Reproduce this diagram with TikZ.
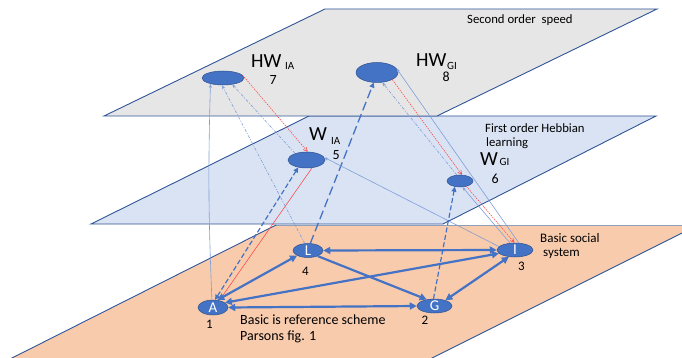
\documentclass[tikz,border=0pt]{standalone}
\usepackage{fontspec}
\setmainfont{Carlito}
\usetikzlibrary{arrows.meta,shapes.geometric}

\definecolor{planegray}{HTML}{E7E6E6}
\definecolor{planeblue}{HTML}{DAE3F3}
\definecolor{planeorange}{HTML}{F8CBAD}
\definecolor{edgeblue}{HTML}{2F5597}
\definecolor{edgegray}{HTML}{8EA0BA}
\definecolor{nodeblue}{HTML}{4472C4}
\definecolor{nodeedge}{HTML}{2F528F}
\definecolor{thinblue}{HTML}{7F9ED8}
\definecolor{linkred}{HTML}{FF3B3B}

\tikzset{
  plane/.style={draw=edgeblue, line width=0.9pt, line join=miter},
  unit/.style={ellipse, fill=nodeblue, draw=nodeedge, line width=0.5pt,
    inner sep=0pt, text=white, font=\fontsize{15}{15}\selectfont},
  lbl/.style={anchor=base west, inner sep=0pt, text=black},
  thick link/.style={draw=nodeblue, line width=2.2pt,
    arrows={Triangle[length=7pt,width=7pt]-Triangle[length=7pt,width=7pt]}},
  thick oneway/.style={draw=nodeblue, line width=2.2pt,
    arrows={-Triangle[length=7pt,width=7pt]}},
  dash link/.style={draw=nodeblue, line width=1.2pt, dash pattern=on 5pt off 2.5pt,
    -{Triangle[length=5pt,width=5pt]}},
  long dash link/.style={draw=nodeblue, line width=1.3pt, dash pattern=on 9pt off 4pt,
    -{Triangle[length=5pt,width=5pt]}},
  thin link/.style={draw=thinblue, line width=0.6pt,
    -{Stealth[length=4pt,width=3pt]}},
  thin dash link/.style={draw=thinblue, line width=0.6pt, dash pattern=on 3pt off 1.5pt on 1pt off 1.5pt,
    -{Stealth[length=4pt,width=3pt]}},
  red link/.style={draw=linkred, line width=0.5pt, dash pattern=on 1.5pt off 1pt,
    -{Straight Barb[length=4pt,width=4pt]}},
  red solid link/.style={draw=linkred, line width=0.5pt,
    -{Straight Barb[length=4pt,width=4pt]}},
}

\begin{document}
\begin{tikzpicture}[x=1pt,y=-1pt]
\useasboundingbox (0,0) rectangle (682,358);

% the three layers: social system, first order, second order
\begin{scope}
  \clip (0,0) rectangle (682,358);
  \fill[planeorange] (276,225) -- (698,225) -- (430,359) -- (10,359) -- cycle;
  \draw[edgegray, line width=0.9pt] (276,225) -- (698,225);
  \draw[edgeblue, line width=0.9pt] (276,225) -- (10,359);
  \draw[edgeblue, line width=0.9pt] (698,225) -- (430,359);
\end{scope}
\filldraw[plane, fill=planeblue] (309,116) -- (656,116) -- (443,224) -- (91,224) -- cycle;
\filldraw[plane, fill=planegray] (325,9) -- (657,9) -- (437,116) -- (104,116) -- cycle;

% units
\node[unit, minimum width=42pt, minimum height=14pt] (hwia) at (223,78) {};
\node[unit, minimum width=42pt, minimum height=20pt] (hwgi) at (377,72.5) {};
\node[unit, minimum width=37pt, minimum height=16pt] (wia) at (306.5,160) {};
\node[unit, minimum width=26pt, minimum height=12pt] (wgi) at (460,181) {};
\node[unit, minimum width=30pt, minimum height=15pt] (A) at (213,307.5) {A};
\node[unit, minimum width=30pt, minimum height=14pt] (L) at (308,250.5) {L};
\node[unit, minimum width=35pt, minimum height=14pt] (G) at (434.5,306) {G};
\node[unit, minimum width=36pt, minimum height=14pt] (I) at (515,250) {I};

% links between the layers
\draw[thin link] (A.98) to[bend left=2] (hwia.205);
\draw[thin dash link] (L.115) -- (hwia.262);
\draw[thin dash link] (wia.150) -- (hwia.325);
\draw[red link] (hwia.8) -- (wia.82);
\draw[dash link, {Triangle[length=5pt,width=5pt]}-{Triangle[length=5pt,width=5pt]}] (A.75) -- (wia.222);
\draw[red solid link] (wia.305) -- (A.48);
\draw[long dash link] (L.72) -- (hwgi.252);
\draw[thin link] (I.168) -- (wia.8);
\draw[dash link] (G.98) -- (wgi.228);
\draw[thin link] (I.125) -- (wgi.292);
\draw[thin dash link] (wgi.118) -- (hwgi.298);
\draw[red link] (hwgi.335) -- (wgi.72);
\draw[red link] (wgi.320) -- (I.95);
\draw[thin link] (I.62) -- (hwgi.12);

% the basic social system
\draw[thick link] (L.east) -- (I.west);
\draw[thick link] (A.60) -- (L.205);
\draw[thick link] (A.22) -- (I.192);
\draw[thick link] (A.east) -- (G.west);
\draw[thick oneway] (L.330) -- (G.140);
\draw[thick link] (I.228) -- (G.28);

% labels
\node[lbl, font=\fontsize{12.7}{14}\selectfont] at (467,23.5) {Second order\ \ speed};
\node[lbl, font=\fontsize{12.7}{14}\selectfont] at (485,133) {First order Hebbian};
\node[lbl, font=\fontsize{12.7}{14}\selectfont] at (486,147) {learning};
\node[lbl, font=\fontsize{13}{14}\selectfont] at (540,242) {Basic social};
\node[lbl, font=\fontsize{13}{14}\selectfont] at (543,256.5) {system};
\node[lbl, font=\fontsize{14}{16}\selectfont] at (240,324) {Basic is reference scheme};
\node[lbl, font=\fontsize{14}{16}\selectfont] at (240,340) {Parsons fig. 1};

\node[lbl, font=\fontsize{20}{20}\selectfont] at (251,68) {HW};
\node[lbl, font=\fontsize{11}{11}\selectfont] at (285,70) {IA};
\node[lbl, font=\fontsize{14}{14}\selectfont] at (269.5,85) {7};
\node[lbl, font=\fontsize{20}{20}\selectfont] at (416,67) {HW};
\node[lbl, font=\fontsize{11}{11}\selectfont] at (447,70) {GI};
\node[lbl, font=\fontsize{14}{14}\selectfont] at (442.5,82) {8};
\node[lbl, font=\fontsize{20}{20}\selectfont] at (309,141) {W};
\node[lbl, font=\fontsize{11}{11}\selectfont] at (331,145) {IA};
\node[lbl, font=\fontsize{14}{14}\selectfont] at (332.5,160) {5};
\node[lbl, font=\fontsize{20}{20}\selectfont] at (480,166) {W};
\node[lbl, font=\fontsize{11}{11}\selectfont] at (499.5,166) {GI};
\node[lbl, font=\fontsize{14}{14}\selectfont] at (491.5,183) {6};

\node[lbl, font=\fontsize{13}{13}\selectfont] at (302,275) {4};
\node[lbl, font=\fontsize{13}{13}\selectfont] at (206,328) {1};
\node[lbl, font=\fontsize{13}{13}\selectfont] at (421.5,324) {2};
\node[lbl, font=\fontsize{13}{13}\selectfont] at (518,270) {3};
\end{tikzpicture}
\end{document}
